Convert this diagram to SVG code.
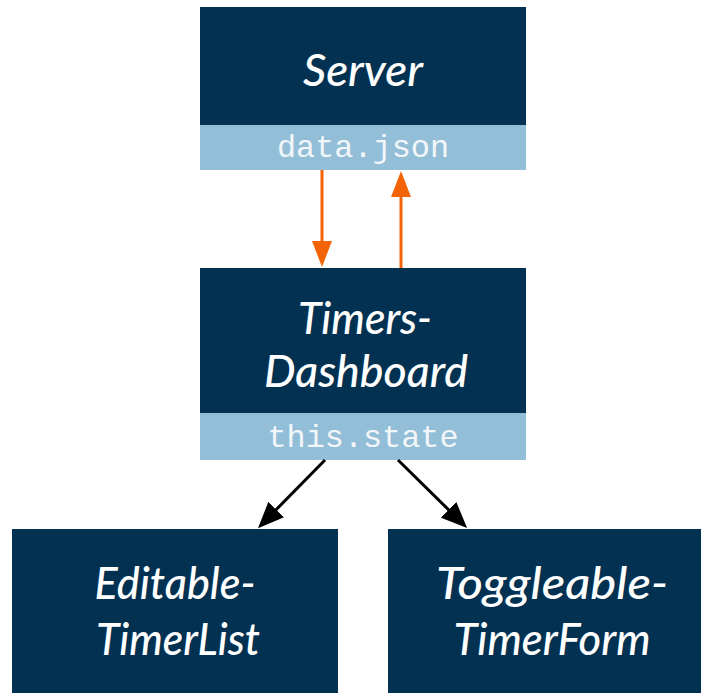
<svg xmlns="http://www.w3.org/2000/svg" width="701" height="693" viewBox="0 0 701 693">
<defs>
<style>
.box{fill:#023152}
.strip{fill:#93bed7}
.title{font-family:Lato,"Open Sans","DejaVu Sans",sans-serif;font-style:italic;font-weight:500;font-size:44px;fill:#ffffff;text-anchor:middle}
.mono{font-family:"Liberation Mono","DejaVu Sans Mono",monospace;font-size:32px;fill:#f2f6f9;text-anchor:middle}
.orange{stroke:#f26405;stroke-width:3;fill:none}
.black{stroke:#000000;stroke-width:3;fill:none}
</style>
<marker id="headO" markerUnits="userSpaceOnUse" viewBox="0 0 26 20" markerWidth="26" markerHeight="20" refX="16" refY="10" orient="auto">
<path d="M0,0 L26,10 L0,20 z" fill="#f26405"/>
</marker>
<marker id="headB" markerUnits="userSpaceOnUse" viewBox="0 0 26 22" markerWidth="26" markerHeight="22" refX="16" refY="11" orient="auto">
<path d="M0,0 L26,11 L0,22 z" fill="#000000"/>
</marker>
</defs>
<rect width="701" height="693" fill="#ffffff"/>
<g id="server">
<rect class="box" x="200" y="7" width="326" height="118"/>
<rect class="strip" x="200" y="125" width="326" height="45"/>
<text class="title" x="363" y="86" textLength="120" lengthAdjust="spacingAndGlyphs">Server</text>
<text class="mono" x="363" y="157" textLength="172" lengthAdjust="spacingAndGlyphs">data.json</text>
</g>
<g id="timers-dashboard">
<rect class="box" x="200" y="268" width="326" height="145"/>
<rect class="strip" x="200" y="413" width="326" height="47"/>
<text class="title" x="365" y="334" textLength="134" lengthAdjust="spacingAndGlyphs">Timers-</text>
<text class="title" x="366" y="387" textLength="204" lengthAdjust="spacingAndGlyphs">Dashboard</text>
<text class="mono" x="363" y="447" textLength="191" lengthAdjust="spacingAndGlyphs">this.state</text>
</g>
<g id="editable-timerlist">
<rect class="box" x="12" y="529" width="326" height="164"/>
<text class="title" x="175" y="599" textLength="161" lengthAdjust="spacingAndGlyphs">Editable-</text>
<text class="title" x="178" y="655" textLength="164" lengthAdjust="spacingAndGlyphs">TimerList</text>
</g>
<g id="toggleable-timerform">
<rect class="box" x="388" y="529" width="313" height="164"/>
<text class="title" x="552" y="599" textLength="232" lengthAdjust="spacingAndGlyphs">Toggleable-</text>
<text class="title" x="552" y="655" textLength="197" lengthAdjust="spacingAndGlyphs">TimerForm</text>
</g>
<g id="connectors">
<line class="orange" x1="322" y1="170" x2="322" y2="257" marker-end="url(#headO)"/>
<line class="orange" x1="401" y1="268" x2="401" y2="181" marker-end="url(#headO)"/>
<line class="black" x1="325" y1="460" x2="265" y2="521" marker-end="url(#headB)"/>
<line class="black" x1="398" y1="460" x2="460" y2="521" marker-end="url(#headB)"/>
</g>
</svg>
